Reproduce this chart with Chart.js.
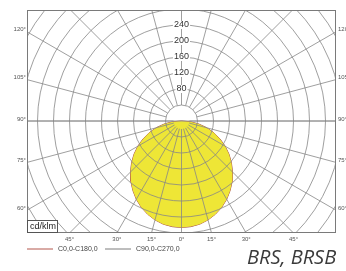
<!DOCTYPE html>
<html>
<head>
<meta charset="utf-8">
<script src="https://cdn.jsdelivr.net/npm/chart.js@4/dist/chart.umd.min.js"></script>
<style>
  html, body { margin: 0; padding: 0; background: #fff; }
  #wrap { position: relative; width: 346px; height: 271px; overflow: hidden; }
  #caption {
    position: absolute; left: 247px; top: 243px;
    font-family: "Open Sans", sans-serif; font-style: italic;
    font-size: 20px; color: #3a3a3a;
  }
</style>
</head>
<body>
<div id="wrap">
  <canvas id="polar" width="346" height="271"></canvas>
  <div id="caption">BRS, BRSB</div>
</div>
<script>
// Photometric data (cd/klm), gamma angle measured from nadir
const gammaAngles = [0, 5, 10, 15, 20, 25, 30, 35, 40, 45, 50, 55, 60, 65, 70, 75, 80, 85, 90];
const c0c180 = [266, 265, 262, 256, 248, 238, 226, 212, 197, 180, 163, 145, 126, 106, 86, 65, 44, 22, 0];
const c90c270 = [266, 265, 261, 255, 247, 237, 225, 211, 196, 180, 162, 144, 125, 105, 85, 64, 43, 21, 0];

// Grid
const ringValues = [40, 80, 120, 160, 200, 240, 280, 320, 360, 400, 440, 480];
const ringLabels = [80, 120, 160, 200, 240];
const spokeAngles = [0, 15, 30, 45, 60, 75, 90, 105, 120, 135, 150, 165, 180, 195, 210, 225, 240, 255, 270, 285, 300, 315, 330, 345];
const angleLabels = [0, 15, 30, 45, 60, 75, 90, 105, 120];
const legendNames = ['C0,0-C180,0', 'C90,0-C270,0'];
const legendColors = ['#b3564c', '#7d7d7d'];

// polar (gamma from nadir) -> x/y in cd, one side at a time
function curvePoints(vals) {
    const pts = [];
    for (let i = gammaAngles.length - 1; i >= 0; i--) {
        const t = gammaAngles[i] * Math.PI / 180;
        pts.push({ x: -vals[i] * Math.sin(t), y: -vals[i] * Math.cos(t) });
    }
    for (let i = 1; i < gammaAngles.length; i++) {
        const t = gammaAngles[i] * Math.PI / 180;
        pts.push({ x: vals[i] * Math.sin(t), y: -vals[i] * Math.cos(t) });
    }
    return pts;
}

const polarGrid = {
    id: 'polarGrid',
    afterDatasetDraw(chart, args) {
        if (args.index !== 0) return;
        const { ctx, chartArea: a, scales: { x, y } } = chart;
        const cx = x.getPixelForValue(0);
        const cy = y.getPixelForValue(0);
        const k = x.getPixelForValue(1) - cx;

        ctx.save();
        ctx.beginPath();
        ctx.rect(a.left, a.top, a.right - a.left, a.bottom - a.top);
        ctx.clip();
        ctx.strokeStyle = '#878787';
        ctx.lineWidth = 0.8;
        ringValues.forEach(v => {
            ctx.beginPath();
            ctx.arc(cx, cy, v * k, 0, Math.PI * 2);
            ctx.stroke();
        });
        spokeAngles.forEach(deg => {
            const t = deg * Math.PI / 180;
            const dx = Math.sin(t), dy = Math.cos(t);
            // lower half spokes run into the centre, upper half stop at the first ring
            const r0 = (deg <= 90 || deg >= 270) ? 8 : ringValues[0] * k;
            ctx.beginPath();
            ctx.moveTo(cx + dx * r0, cy + dy * r0);
            ctx.lineTo(cx + dx * 1000, cy + dy * 1000);
            ctx.stroke();
        });
        ctx.beginPath();
        ctx.moveTo(a.left, cy);
        ctx.lineTo(a.right, cy);
        ctx.stroke();
        ctx.restore();
    },
    afterDraw(chart) {
        const { ctx, chartArea: a, scales: { x, y } } = chart;
        const cx = x.getPixelForValue(0);
        const cy = y.getPixelForValue(0);
        const k = x.getPixelForValue(1) - cx;
        ctx.save();

        // frame
        ctx.strokeStyle = '#7a7a7a';
        ctx.lineWidth = 1;
        ctx.strokeRect(a.left + 0.5, a.top + 0.5, a.right - a.left - 1, a.bottom - a.top - 1);

        // ring values up the vertical axis
        ctx.font = '9px "Liberation Sans", Arial, sans-serif';
        ctx.textAlign = 'center';
        ctx.textBaseline = 'middle';
        ringLabels.forEach(v => {
            const py = cy - v * k;
            const w = ctx.measureText(String(v)).width;
            ctx.fillStyle = '#fff';
            ctx.fillRect(cx - w / 2 - 1, py - 4, w + 2, 8);
            ctx.fillStyle = '#333';
            ctx.fillText(String(v), cx, py);
        });

        // angle labels where the spokes leave the frame
        ctx.font = '6px "Liberation Sans", Arial, sans-serif';
        ctx.fillStyle = '#555';
        angleLabels.forEach(deg => {
            [-1, 1].forEach(side => {
                if (deg === 0 && side < 0) return;
                const t = deg * Math.PI / 180;
                const dx = side * Math.sin(t), dy = Math.cos(t);
                const tx = dx !== 0 ? ((dx > 0 ? a.right : a.left) - cx) / dx : Infinity;
                const ty = dy > 0 ? (a.bottom - cy) / dy : Infinity;
                const txt = deg + '°';
                if (ty < tx) {
                    ctx.textAlign = 'center';
                    ctx.textBaseline = 'middle';
                    ctx.fillText(txt, cx + dx * ty, a.bottom + 6);
                } else {
                    const py = cy + dy * tx - 2;
                    ctx.textBaseline = 'middle';
                    if (dx < 0) {
                        ctx.textAlign = 'right';
                        ctx.fillText(txt, a.left - 1, py);
                    } else {
                        ctx.textAlign = 'left';
                        ctx.fillText(txt, a.right + 2, py);
                    }
                }
            });
        });

        // unit box
        ctx.fillStyle = '#fff';
        ctx.fillRect(a.left, a.bottom - 13, 30, 13);
        ctx.strokeStyle = '#555';
        ctx.strokeRect(a.left + 0.5, a.bottom - 12.5, 30, 12);
        ctx.fillStyle = '#222';
        ctx.font = '9px "Liberation Sans", Arial, sans-serif';
        ctx.textAlign = 'left';
        ctx.textBaseline = 'middle';
        ctx.fillText('cd/klm', a.left + 3, a.bottom - 6);

        // legend
        ctx.font = '7px "Liberation Sans", Arial, sans-serif';
        ctx.fillStyle = '#444';
        const ly = a.bottom + 16;
        const lx = [a.left, a.left + 78];
        legendNames.forEach((name, i) => {
            ctx.strokeStyle = legendColors[i];
            ctx.lineWidth = 1;
            ctx.beginPath();
            ctx.moveTo(lx[i], ly);
            ctx.lineTo(lx[i] + 26, ly);
            ctx.stroke();
            ctx.fillText(name, lx[i] + 31, ly);
        });
        ctx.restore();
    }
};

new Chart(document.getElementById('polar'), {
    type: 'scatter',
    data: {
        datasets: [
            {
                data: curvePoints(c0c180),
                showLine: true,
                pointRadius: 0,
                borderWidth: 0,
                borderColor: 'rgba(0,0,0,0)',
                backgroundColor: '#eee636',
                fill: 'shape'
            },
            {
                label: legendNames[0],
                data: curvePoints(c0c180),
                showLine: true,
                pointRadius: 0,
                borderWidth: 1,
                borderColor: legendColors[0],
                fill: false
            },
            {
                label: legendNames[1],
                data: curvePoints(c90c270),
                showLine: true,
                pointRadius: 0,
                borderWidth: 0.6,
                borderColor: legendColors[1],
                fill: false
            }
        ]
    },
    options: {
        responsive: false,
        animation: false,
        layout: { padding: { left: 27, right: 10, top: 10, bottom: 38 } },
        scales: {
            x: { type: 'linear', display: false, min: -386.25, max: 386.25 },
            y: { type: 'linear', display: false, min: -280, max: 277.5 }
        },
        plugins: {
            legend: { display: false },
            tooltip: { enabled: false }
        }
    },
    plugins: [polarGrid]
});
</script>
</body>
</html>
